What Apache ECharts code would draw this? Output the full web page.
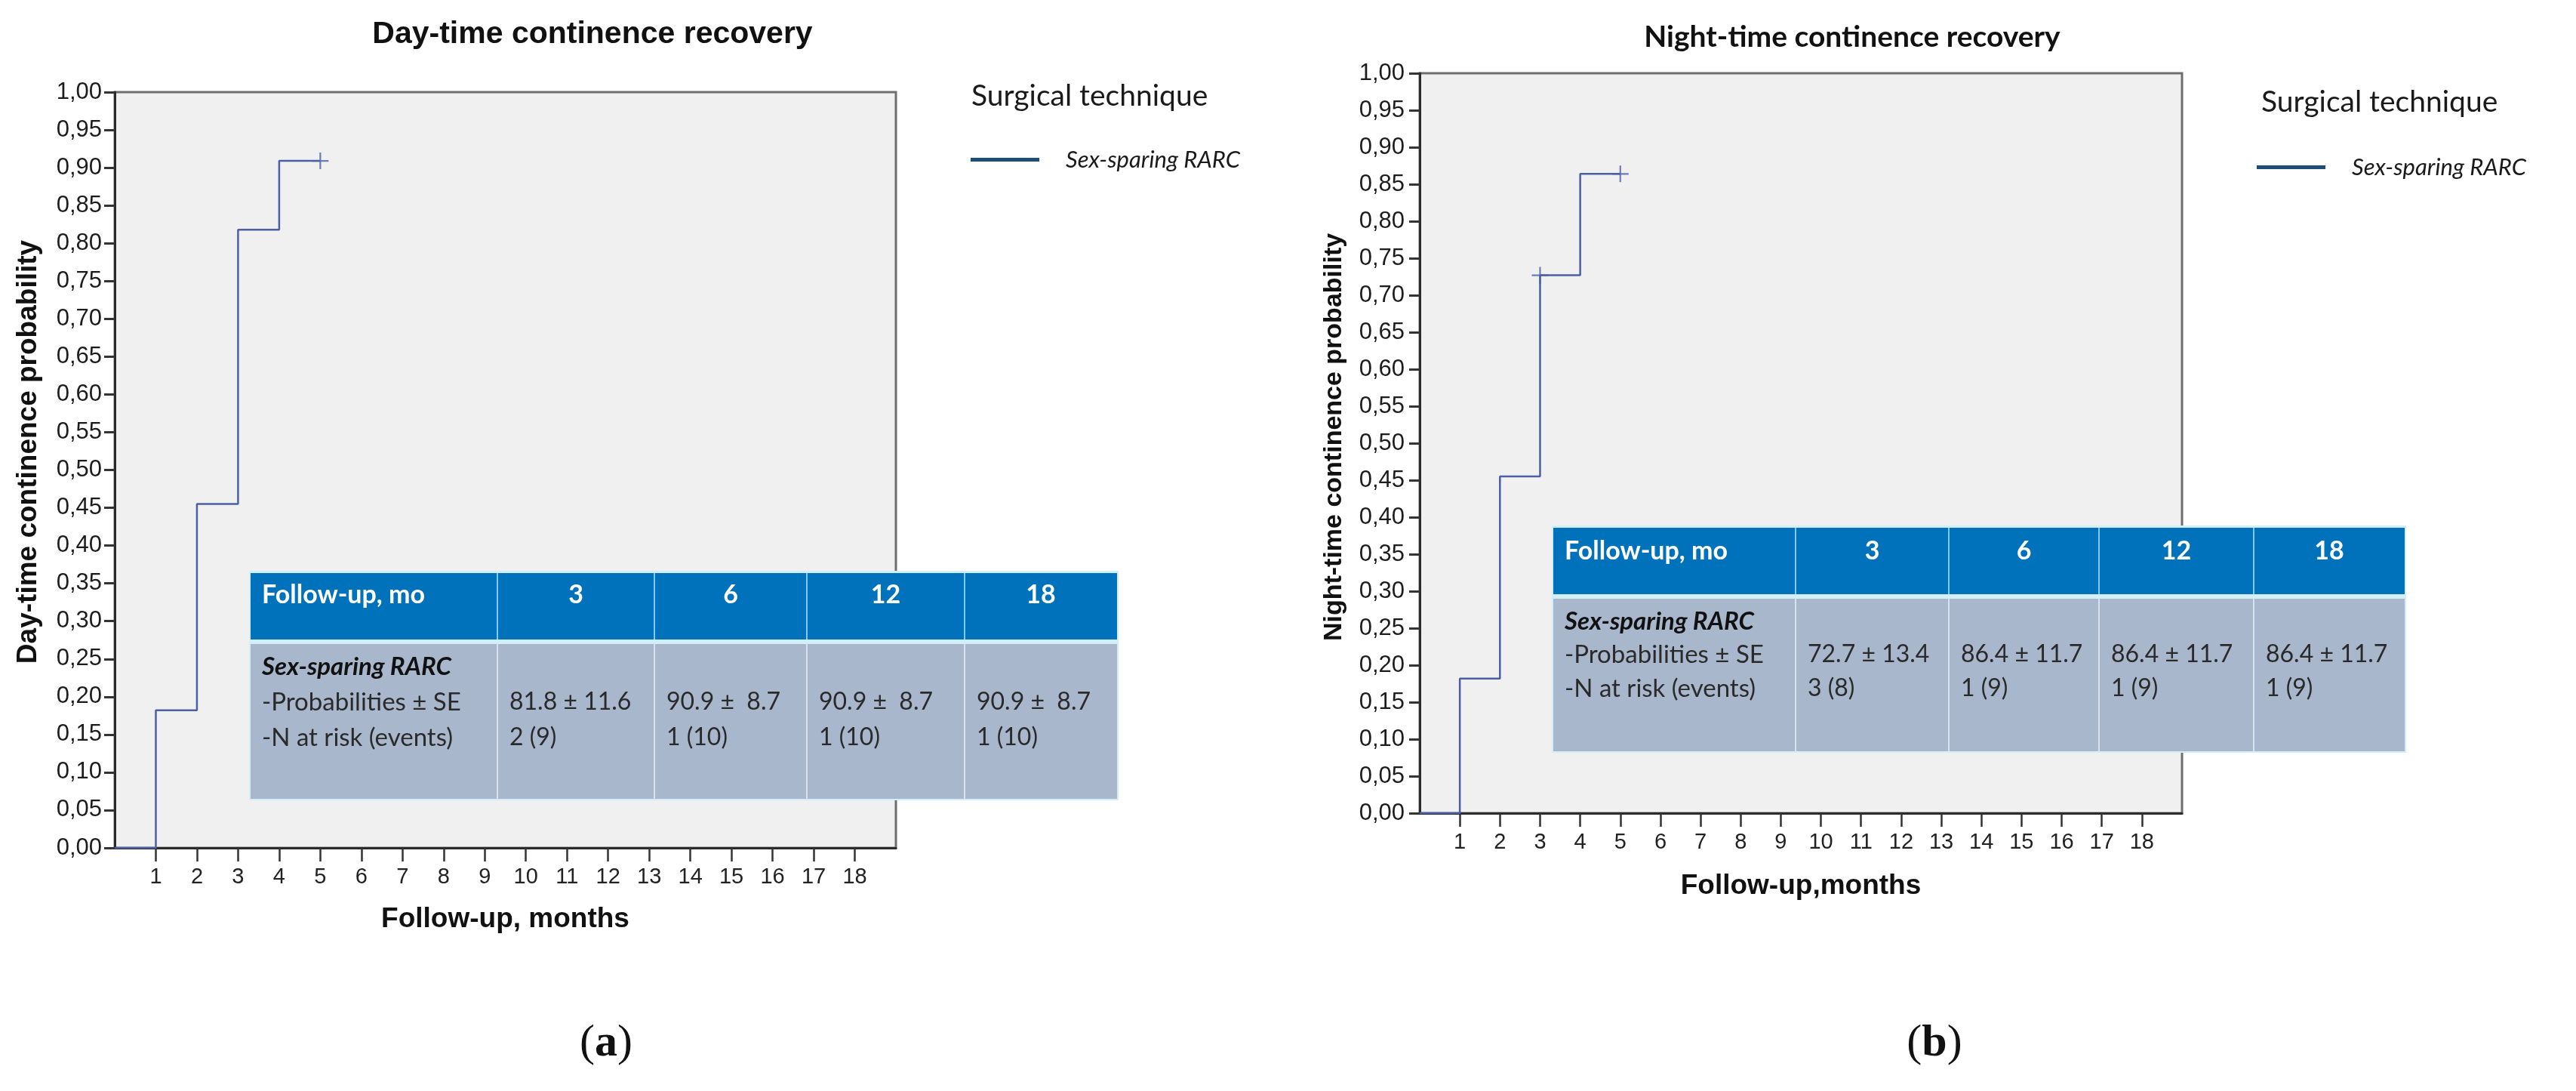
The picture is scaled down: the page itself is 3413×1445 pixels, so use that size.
<!DOCTYPE html>
<html>
<head>
<meta charset="utf-8">
<title>Continence recovery</title>
<script src="https://cdn.jsdelivr.net/npm/echarts@6/dist/echarts.min.js"></script>
<style>
html, body { margin: 0; padding: 0; background: #fff; }
#chart { width: 3413px; height: 1445px; }
</style>
</head>
<body>
<div id="chart"></div>
<script>
// ==========================
// data
// ==========================
var months = [0, 1, 2, 3, 4, 5];
var dayTime = [0, 0.182, 0.455, 0.818, 0.909, 0.909];
var nightTime = [0, 0.182, 0.455, 0.727, 0.864, 0.864];
var dayCensored = [[5, 0.909]];
var nightCensored = [[3, 0.727], [5, 0.864]];
var monthTicks = [1, 2, 3, 4, 5, 6, 7, 8, 9, 10, 11, 12, 13, 14, 15, 16, 17, 18];

// inset tables
var tableHead = ['Follow-up, mo', '3', '6', '12', '18'];
var tableRows = ['Sex-sparing RARC', '-Probabilities ± SE', '-N at risk (events)'];
var dayProb = ['81.8 ± 11.6', '90.9 ±  8.7', '90.9 ±  8.7', '90.9 ±  8.7'];
var dayRisk = ['2 (9)', '1 (10)', '1 (10)', '1 (10)'];
var nightProb = ['72.7 ± 13.4', '86.4 ± 11.7', '86.4 ± 11.7', '86.4 ± 11.7'];
var nightRisk = ['3 (8)', '1 (9)', '1 (9)', '1 (9)'];

var seriesName = 'Sex-sparing RARC';
var lineColor = '#4b5fa7';
var arial = '"Liberation Sans", Arial, sans-serif';
var calibri = 'Lato, "Open Sans", sans-serif';
var plus = 'path://M45,0H55V45H100V55H55V100H45V55H0V45H45Z';

function pairs(xs, ys) {
	return xs.map(function(x, i) {
		return [x, ys[i]];
	});
}

function xAxisOf(grid, name, gap) {
	return {
		type : 'value',
		gridIndex : grid,
		min : 0,
		max : 19,
		interval : 1,
		name : name,
		nameLocation : 'middle',
		nameGap : gap,
		nameTextStyle : {
			fontFamily : arial,
			fontWeight : 'bold',
			fontSize : 37,
			color : '#111'
		},
		axisLine : {
			lineStyle : {
				color : '#2b2b2b',
				width : 3
			}
		},
		axisTick : {
			customValues : monthTicks,
			length : 18,
			lineStyle : {
				color : '#333',
				width : 2.5
			}
		},
		axisLabel : {
			customValues : monthTicks,
			margin : 24,
			fontFamily : arial,
			fontSize : 29,
			color : '#222'
		},
		splitLine : {
			show : false
		}
	};
}

function yAxisOf(grid, name, size, shift, margin) {
	return {
		type : 'value',
		gridIndex : grid,
		min : 0,
		max : 1,
		interval : 0.05,
		name : name,
		nameLocation : 'middle',
		nameGap : 96,
		nameTextStyle : {
			fontFamily : arial,
			fontWeight : 'bold',
			fontSize : size,
			color : '#111',
			padding : [ 0, 0, 0, shift ]
		},
		axisLine : {
			show : true,
			lineStyle : {
				color : '#2b2b2b',
				width : 3
			}
		},
		axisTick : {
			show : true,
			length : 14,
			lineStyle : {
				color : '#333',
				width : 3
			}
		},
		axisLabel : {
			margin : margin,
			fontFamily : arial,
			fontSize : 31,
			color : '#1c1c1c',
			formatter : function(v) {
				return v.toFixed(2).replace('.', ',');
			}
		},
		splitLine : {
			show : false
		}
	};
}

// ==========================
// inset table drawn with graphic elements
// ==========================
function tableParts(t, prob, risk) {
	var els = [];
	var left = t.cols[0];
	var right = t.cols[t.cols.length - 1];
	els.push({
		type : 'rect',
		shape : { x : left - 2, y : t.headTop - 3, width : right - left + 4, height : t.bodyBottom - t.headTop + 5 },
		style : { fill : '#d4eef9' }
	});
	els.push({
		type : 'rect',
		shape : { x : left, y : t.headTop, width : right - left, height : t.headBottom - t.headTop },
		style : { fill : '#0071bb' }
	});
	els.push({
		type : 'rect',
		shape : { x : left, y : t.bodyTop, width : right - left, height : t.bodyBottom - t.bodyTop },
		style : { fill : '#a8b7cb' }
	});
	for (var i = 1; i < t.cols.length - 1; i++) {
		els.push({
			type : 'line',
			shape : { x1 : t.cols[i], y1 : t.headTop, x2 : t.cols[i], y2 : t.headBottom },
			style : { stroke : '#7fcaf1', lineWidth : 2 }
		});
		els.push({
			type : 'line',
			shape : { x1 : t.cols[i], y1 : t.bodyTop, x2 : t.cols[i], y2 : t.bodyBottom },
			style : { stroke : '#d8e2ee', lineWidth : 2 }
		});
	}
	tableHead.forEach(function(h, i) {
		els.push({
			type : 'text',
			x : i == 0 ? left + 15 : (t.cols[i] + t.cols[i + 1]) / 2,
			y : t.headY,
			style : {
				text : h,
				fill : '#ffffff',
				fontFamily : calibri,
				fontWeight : 'bold',
				fontSize : 34,
				align : i == 0 ? 'left' : 'center',
				verticalAlign : 'middle'
			}
		});
	});
	tableRows.forEach(function(r, i) {
		els.push({
			type : 'text',
			x : left + 15,
			y : t.rowY[i],
			style : {
				text : r,
				fill : i == 0 ? '#111' : '#2a2a2a',
				fontFamily : calibri,
				fontWeight : i == 0 ? 'bold' : 'normal',
				fontStyle : i == 0 ? 'italic' : 'normal',
				fontSize : 33,
				align : 'left',
				verticalAlign : 'middle'
			}
		});
	});
	for (var c = 0; c < prob.length; c++) {
		[ prob[c], risk[c] ].forEach(function(v, k) {
			els.push({
				type : 'text',
				x : t.cols[c + 1] + 16,
				y : t.rowY[k + 1],
				style : {
					text : v,
					fill : '#2a2a2a',
					fontFamily : calibri,
					fontSize : 32,
					align : 'left',
					verticalAlign : 'middle'
				}
			});
		});
	}
	return els;
}

var dayTable = {
	cols : [ 332, 659, 867, 1069, 1278, 1480 ],
	headTop : 759, headBottom : 847, bodyTop : 853, bodyBottom : 1058,
	headY : 788, rowY : [ 883, 930, 977 ]
};
var nightTable = {
	cols : [ 2058, 2379, 2582, 2781, 2986, 3186 ],
	headTop : 699, headBottom : 787, bodyTop : 793, bodyBottom : 995,
	headY : 730, rowY : [ 823, 867, 912 ]
};

function panelLabel(letter, x) {
	return {
		type : 'text',
		x : x,
		y : 1382,
		style : {
			text : '{p|(}{l|' + letter + '}{p|)}',
			align : 'center',
			verticalAlign : 'middle',
			rich : {
				p : { fontFamily : '"Liberation Serif", serif', fontSize : 60, fill : '#111' },
				l : { fontFamily : '"Liberation Serif", serif', fontSize : 60, fontWeight : 'bold', fill : '#111' }
			}
		}
	};
}

var legendBase = {
	data : [ { name : seriesName, icon : 'rect' } ],
	orient : 'horizontal',
	padding : 0,
	itemWidth : 91,
	itemHeight : 5,
	selectedMode : false,
	itemStyle : { color : '#1c4d78' },
	textStyle : {
		fontFamily : calibri,
		fontStyle : 'italic',
		fontSize : 31,
		color : '#1a1a1a',
		padding : [ 0, 0, 0, 30 ]
	}
};

var chart = echarts.init(document.getElementById('chart'));
var option = {
	backgroundColor : '#ffffff',
	animation : false,
	title : [ {
		text : 'Day-time continence recovery',
		left : 785,
		top : 25,
		padding : 0,
		textAlign : 'center',
		textStyle : { fontFamily : arial, fontWeight : 'bold', fontSize : 41, color : '#111' }
	}, {
		text : 'Night-time continence recovery',
		left : 2454,
		top : 30,
		padding : 0,
		textAlign : 'center',
		textStyle : { fontFamily : calibri, fontWeight : 'bold', fontSize : 39, color : '#111' }
	}, {
		text : 'Surgical technique',
		left : 1287,
		top : 108,
		padding : 0,
		textStyle : { fontFamily : calibri, fontWeight : 'normal', fontSize : 39, color : '#1a1a1a' }
	}, {
		text : 'Surgical technique',
		left : 2996,
		top : 116,
		padding : 0,
		textStyle : { fontFamily : calibri, fontWeight : 'normal', fontSize : 39, color : '#1a1a1a' }
	} ],
	legend : [
		echarts.util.merge({ left : 1286, top : 196 }, legendBase, true),
		echarts.util.merge({ left : 2990, top : 206 }, legendBase, true)
	],
	grid : [ {
		left : 152,
		top : 122,
		width : 1035,
		height : 1001,
		show : true,
		backgroundColor : '#f0f0f0',
		borderColor : '#6e6e6e',
		borderWidth : 3
	}, {
		left : 1881,
		top : 97,
		width : 1010,
		height : 980,
		show : true,
		backgroundColor : '#f0f0f0',
		borderColor : '#6e6e6e',
		borderWidth : 3
	} ],
	xAxis : [ xAxisOf(0, 'Follow-up, months', 76), xAxisOf(1, 'Follow-up,months', 78) ],
	yAxis : [ yAxisOf(0, 'Day-time continence probability', 37, 48, 17),
			yAxisOf(1, 'Night-time continence probability', 34, 16, 20) ],
	series : [ {
		name : seriesName,
		type : 'line',
		step : 'end',
		xAxisIndex : 0,
		yAxisIndex : 0,
		data : pairs(months, dayTime),
		showSymbol : false,
		lineStyle : { color : lineColor, width : 2.5 },
		itemStyle : { color : lineColor }
	}, {
		name : 'censored day',
		type : 'scatter',
		xAxisIndex : 0,
		yAxisIndex : 0,
		data : dayCensored,
		symbol : plus,
		symbolSize : 22,
		itemStyle : { color : lineColor }
	}, {
		name : seriesName,
		type : 'line',
		step : 'end',
		xAxisIndex : 1,
		yAxisIndex : 1,
		data : pairs(months, nightTime),
		showSymbol : false,
		lineStyle : { color : lineColor, width : 2.5 },
		itemStyle : { color : lineColor }
	}, {
		name : 'censored night',
		type : 'scatter',
		xAxisIndex : 1,
		yAxisIndex : 1,
		data : nightCensored,
		symbol : plus,
		symbolSize : 22,
		itemStyle : { color : lineColor }
	} ],
	graphic : {
		elements : [ {
			type : 'group',
			z : 50,
			children : tableParts(dayTable, dayProb, dayRisk)
		}, {
			type : 'group',
			z : 50,
			children : tableParts(nightTable, nightProb, nightRisk)
		}, panelLabel('a', 803), panelLabel('b', 2563) ]
	}
};
chart.setOption(option);
</script>
</body>
</html>
